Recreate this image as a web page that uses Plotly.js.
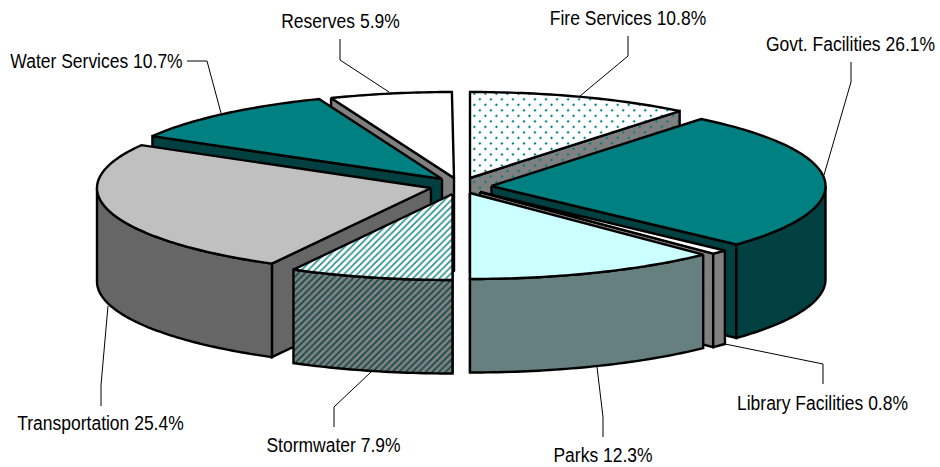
<!DOCTYPE html>
<html>
<head>
<meta charset="utf-8">
<script src="https://cdn.plot.ly/plotly-3.0.1.min.js"></script>
<style>html,body{margin:0;padding:0;background:#fff}#chart{width:940px;height:467px}</style>
</head>
<body>
<div id="chart"></div>
<script>
// Data, clockwise from 12 o'clock
const categories = ["Fire Services","Govt. Facilities","Library Facilities","Parks","Stormwater","Transportation","Water Services","Reserves"];
const shares = [10.8,26.1,0.8,12.3,7.9,25.4,10.7,5.9];

// Pie geometry (pixel space of the axes)
const W = 940, H = 467, RX = 334, RY = 86, DEPTH = 93.5;
const apexX = [470,491.5,480,470,452.5,431,442,454];
const apexY = [178,186,192,193,194,188,179,178];
const drawOrder = [0,7,6,1,5,2,3,4];

// Styles
const topColor  = ["#FFFFFF","#008080","#FFFFFF","#CCFFFF","#FFFFFF","#C0C0C0","#008080","#FFFFFF"];
const wallColor = ["#808080","#004040","#808080","#668080","#808080","#666666","#004040","#808080"];
const topPattern = {
  0:{shape:".",size:7.8,solidity:0.07,fgcolor:"#008080",bgcolor:"#FFFFFF",fgopacity:1},
  4:{shape:"/",size:4.7,solidity:0.35,fgcolor:"#2A9090",bgcolor:"#FFFFFF",fgopacity:1}
};
const wallPattern = {
  0:{shape:".",size:7.8,solidity:0.07,fgcolor:"#008080",bgcolor:"#808080",fgopacity:1},
  4:{shape:"/",size:4.7,solidity:0.35,fgcolor:"#104848",bgcolor:"#808080",fgopacity:1}
};

// Label placement and leader lines
const labelX = [628,850.5,822.5,603,333.5,100.5,96.5,340.5];
const labelY = [21,47,406,458,448,426,64,24];
const leaderX = [[628,628,580],[851,851,824],[823,823,725],[603,603,597],[334,334,371],[101,101,108],[187,207,221],[340,340,389]];
const leaderY = [[36,56,96],[62,82,175],[384,364,344],[437,417,367],[427,407,372],[406,385,306],[61,61,113],[39,60,92]];
const LABEL_TALL = 1.2;

const rad = d => d*Math.PI/180;
const rimX = (i,t) => apexX[i] + RX*Math.sin(rad(t));
const rimY = (i,t) => apexY[i] - RY*Math.cos(rad(t));
function arc(a,b){const n=Math.max(2,Math.ceil(Math.abs(b-a)));const o=[];for(let k=0;k<=n;k++)o.push(a+(b-a)*k/n);return o;}

let run = 0;
const starts = shares.map(v => {const s=run; run+=v*3.6; return s;});

const traces = [];
function face(xs,ys,color,pattern,name){
  const t = {type:"scatter",mode:"lines",x:xs,y:ys,fill:"toself",fillcolor:color,
    line:{color:"#000000",width:2.4,simplify:false},hoverinfo:"skip",showlegend:false,name:name};
  if(pattern) t.fillpattern = pattern;
  traces.push(t);
}
drawOrder.forEach(i=>{
  const a=starts[i], b=a+shares[i]*3.6, mid=(a+b)/2;
  // radial side wall facing the viewer
  const e = mid<180 ? b : a;
  face([apexX[i],rimX(i,e),rimX(i,e),apexX[i],apexX[i]],
       [apexY[i],rimY(i,e),rimY(i,e)+DEPTH,apexY[i]+DEPTH,apexY[i]],
       wallColor[i],wallPattern[i],categories[i]+" side");
  // outer curved wall (front half only)
  const f=Math.max(a,90), g=Math.min(b,270);
  if(g>f){
    const ts=arc(f,g);
    const xs=ts.map(t=>rimX(i,t)), ys=ts.map(t=>rimY(i,t));
    const rs=ts.slice().reverse();
    const allX=xs.concat(rs.map(t=>rimX(i,t))); allX.push(xs[0]);
    const allY=ys.concat(rs.map(t=>rimY(i,t)+DEPTH)); allY.push(ys[0]);
    face(allX,allY,wallColor[i],wallPattern[i],categories[i]+" wall");
  }
  // top face
  const ts=arc(a,b);
  face([apexX[i]].concat(ts.map(t=>rimX(i,t)),[apexX[i]]),
       [apexY[i]].concat(ts.map(t=>rimY(i,t)),[apexY[i]]),
       topColor[i],topPattern[i],categories[i]);
});
leaderX.forEach((xs,i)=>traces.push({type:"scatter",mode:"lines",x:xs,y:leaderY[i],
  line:{color:"#000000",width:1,simplify:false},hoverinfo:"skip",showlegend:false,name:categories[i]+" leader"}));

traces.push({type:"scatter",mode:"text",x:labelX,y:labelY,
  text:categories.map((c,i)=>c+" "+shares[i].toFixed(1)+"%"),
  textposition:"middle center",cliponaxis:false,hoverinfo:"skip",showlegend:false,name:"labels",
  textfont:{family:"'Liberation Sans',Arial,sans-serif",size:17.5,color:"#000000"}});

Plotly.newPlot("chart",traces,{
  width:W,height:H,margin:{l:0,r:0,t:0,b:0},paper_bgcolor:"#FFFFFF",plot_bgcolor:"#FFFFFF",showlegend:false,
  xaxis:{range:[0,W],visible:false,fixedrange:true},
  yaxis:{range:[H,0],visible:false,fixedrange:true}
},{displayModeBar:false,staticPlot:true}).then(gd=>{
  // the original type is tall and narrow: stretch the real text elements upward from their baseline
  gd.querySelectorAll(".textpoint text").forEach(el=>{
    const x=+el.getAttribute("x"), y=+el.getAttribute("y"), old=el.getAttribute("transform")||"";
    el.setAttribute("transform",old+" translate("+x+","+y+") scale(1,"+LABEL_TALL+") translate("+(-x)+","+(-y)+")");
  });
  // staggered dot lattice, as in the original fill
  gd.querySelectorAll("pattern").forEach(p=>{
    if(p.querySelector("circle")) p.setAttribute("patternTransform","rotate(45)");
  });
});
</script>
</body>
</html>
